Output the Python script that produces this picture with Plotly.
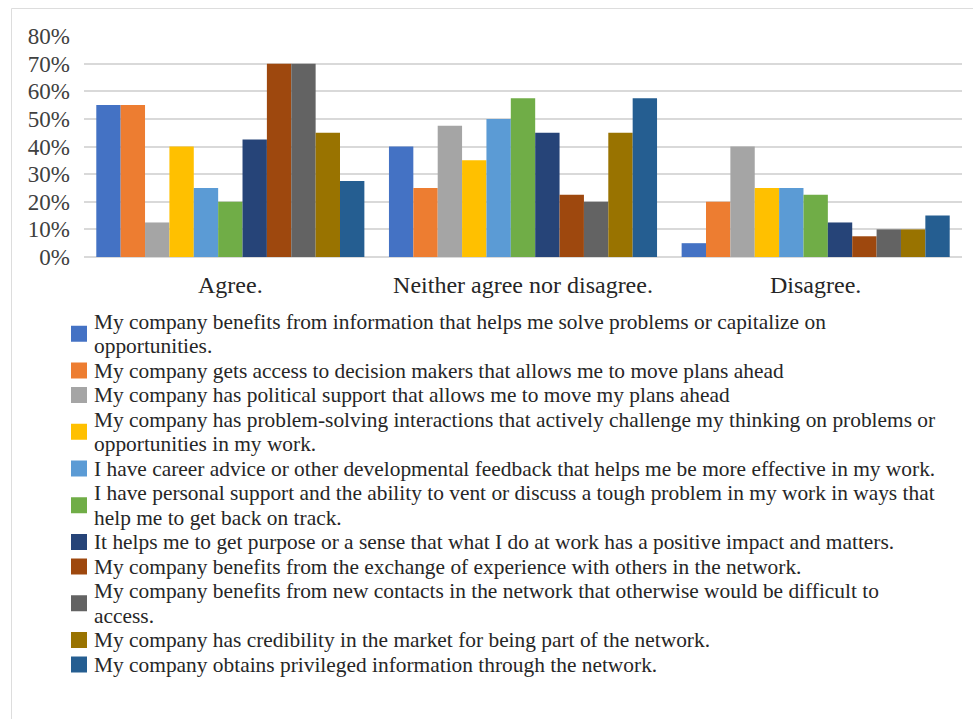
import plotly.graph_objects as go

# Response categories on the x axis
categories = ["Agree.", "Neither agree nor disagree.", "Disagree."]

# Survey statements (one series each) and their share of responses, in %
statements = [
    "My company benefits from information that helps me solve problems or capitalize on<br>opportunities.",
    "My company gets access to decision makers that allows me to move plans ahead",
    "My company has political support that allows me to move my plans ahead",
    "My company has problem-solving interactions that actively challenge my thinking on problems or<br>opportunities in my work.",
    "I have career advice or other developmental feedback that helps me be more effective in my work.",
    "I have personal support and the ability to vent or discuss a tough problem in my work in ways that<br>help me to get back on track.",
    "It helps me to get purpose or a sense that what I do at work has a positive impact and matters.",
    "My company benefits from the exchange of experience with others in the network.",
    "My company benefits from new contacts in the network that otherwise would be difficult to<br>access.",
    "My company has credibility in the market for being part of the network.",
    "My company obtains privileged information through the network.",
]

benefits_info = [55, 40, 5]
decision_makers = [55, 25, 20]
political_support = [12.5, 47.5, 40]
problem_solving = [40, 35, 25]
career_advice = [25, 50, 25]
personal_support = [20, 57.5, 22.5]
purpose = [42.5, 45, 12.5]
exchange_experience = [70, 22.5, 7.5]
new_contacts = [70, 20, 10]
credibility = [45, 45, 10]
privileged_info = [27.5, 57.5, 15]

series_values = [
    benefits_info, decision_makers, political_support, problem_solving,
    career_advice, personal_support, purpose, exchange_experience,
    new_contacts, credibility, privileged_info,
]

y_ticks = [0, 10, 20, 30, 40, 50, 60, 70, 80]
y_tick_labels = ["0%", "10%", "20%", "30%", "40%", "50%", "60%", "70%", "80%"]

colors = [
    "#4472C4", "#ED7D31", "#A5A5A5", "#FFC000", "#5B9BD5", "#70AD47",
    "#264478", "#9E480E", "#636363", "#997300", "#255E91",
]

FONT = "Liberation Serif, Times New Roman, serif"
W, H = 973, 719
PLOT_L, PLOT_R, PLOT_T, PLOT_B = 84, 962, 36, 257


def px_x(x):
    return (x - PLOT_L) / (PLOT_R - PLOT_L)


def px_y(y):
    return (PLOT_B - y) / (PLOT_B - PLOT_T)


fig = go.Figure()
for name, vals, col in zip(statements, series_values, colors):
    fig.add_trace(go.Bar(
        x=categories, y=vals, name=name.replace("<br>", " "),
        marker=dict(color=col, line=dict(width=0)),
        showlegend=False,
    ))

shapes = []
annotations = []

# Outer frame (left and top edges)
frame_col = "#DDDDDD"
shapes.append(dict(type="line", xref="paper", yref="paper",
                   x0=px_x(11.5), x1=px_x(11.5), y0=px_y(8.5), y1=px_y(H),
                   line=dict(color=frame_col, width=1)))
shapes.append(dict(type="line", xref="paper", yref="paper",
                   x0=px_x(11.5), x1=px_x(W), y0=px_y(8.5), y1=px_y(8.5),
                   line=dict(color=frame_col, width=1)))

# Legend below the chart: colour swatch + wrapped statement text
first_baseline = 329
line_pitch = 24.5
legend_fs = 21.4
line_idx = 0
for name, col in zip(statements, colors):
    lines = name.split("<br>")
    baselines = [first_baseline + line_pitch * (line_idx + k) for k in range(len(lines))]
    mean_base = sum(baselines) / len(lines)
    sq_c = mean_base - 7.5
    sq = 16
    shapes.append(dict(type="rect", xref="paper", yref="paper",
                       x0=px_x(71), x1=px_x(71 + sq),
                       y0=px_y(sq_c - sq / 2), y1=px_y(sq_c + sq / 2),
                       fillcolor=col, line=dict(width=0)))
    for text, base in zip(lines, baselines):
        annotations.append(dict(
            xref="paper", yref="paper", x=px_x(92), y=px_y(base - 0.3375 * legend_fs),
            xanchor="left", yanchor="middle", align="left", showarrow=False,
            text=text, font=dict(family=FONT, size=legend_fs, color="#262626"),
        ))
    line_idx += len(lines)

fig.update_layout(
    width=W, height=H, autosize=False,
    margin=dict(l=PLOT_L, r=W - PLOT_R, t=PLOT_T, b=H - PLOT_B, pad=0),
    paper_bgcolor="white", plot_bgcolor="white",
    barmode="group", bargap=0.084, bargroupgap=0,
    font=dict(family=FONT, size=22, color="#262626"),
    shapes=shapes, annotations=annotations,
    xaxis=dict(
        showgrid=False, showline=False, zeroline=False, ticks="",
        tickfont=dict(family=FONT, size=24, color="#262626"),
        ticklabelstandoff=11,
    ),
    yaxis=dict(
        range=[0, 80], tickvals=y_ticks, ticktext=y_tick_labels,
        showgrid=True, gridcolor="#D9D9D9", gridwidth=1.5,
        zeroline=True, zerolinecolor="#D9D9D9", zerolinewidth=1.5,
        showline=False, ticks="",
        tickfont=dict(family=FONT, size=23, color="#404040"),
        ticklabelstandoff=13,
    ),
)

fig.write_html("out.html")
